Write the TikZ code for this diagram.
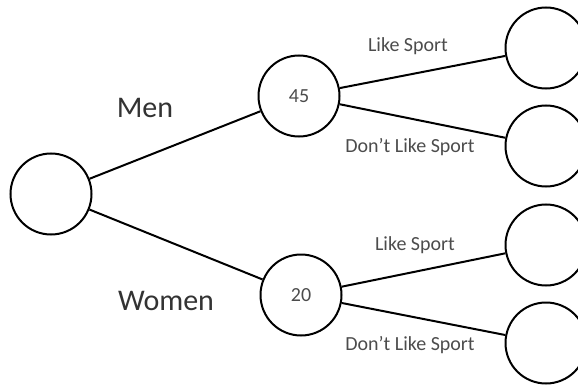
\documentclass[tikz,border=0pt]{standalone}
\usepackage{fontspec}
\setmainfont{Carlito}

\begin{document}
\begin{tikzpicture}[x=1pt,y=-1pt,line width=2pt,
  vertex/.style={circle,draw,minimum size=81pt,inner sep=0pt,font=\fontsize{20}{20}\selectfont,text=black!70},
  branch/.style={font=\fontsize{20}{24}\selectfont,text=black!70},
  group/.style={font=\fontsize{30}{32}\selectfont,text=black!80}]
\useasboundingbox (0,0) rectangle (578,385);
\node[vertex] (R) at (51,194) {};
\node[vertex] (M) at (299,96) {45};
\node[vertex] (W) at (301,295) {20};
\node[vertex] (A) at (546,48) {};
\node[vertex] (B) at (546,146) {};
\node[vertex] (C) at (546,245) {};
\node[vertex] (D) at (546,343) {};

\node[group] (Lm) at (145,108) {Men};
\node[group] (Lw) at (166,301) {Women};
\node[branch] (La) at (408,46) {Like Sport};
\node[branch] (Lb) at (410,147) {Don't Like Sport};
\node[branch] (Lc) at (415,245) {Like Sport};
\node[branch] (Ld) at (410,345) {Don't Like Sport};

\draw (R) -- (M);
\draw (R) -- (W);
\draw (M) -- (A);
\draw (M) -- (B);
\draw (W) -- (C);
\draw (W) -- (D);
\end{tikzpicture}
\end{document}
